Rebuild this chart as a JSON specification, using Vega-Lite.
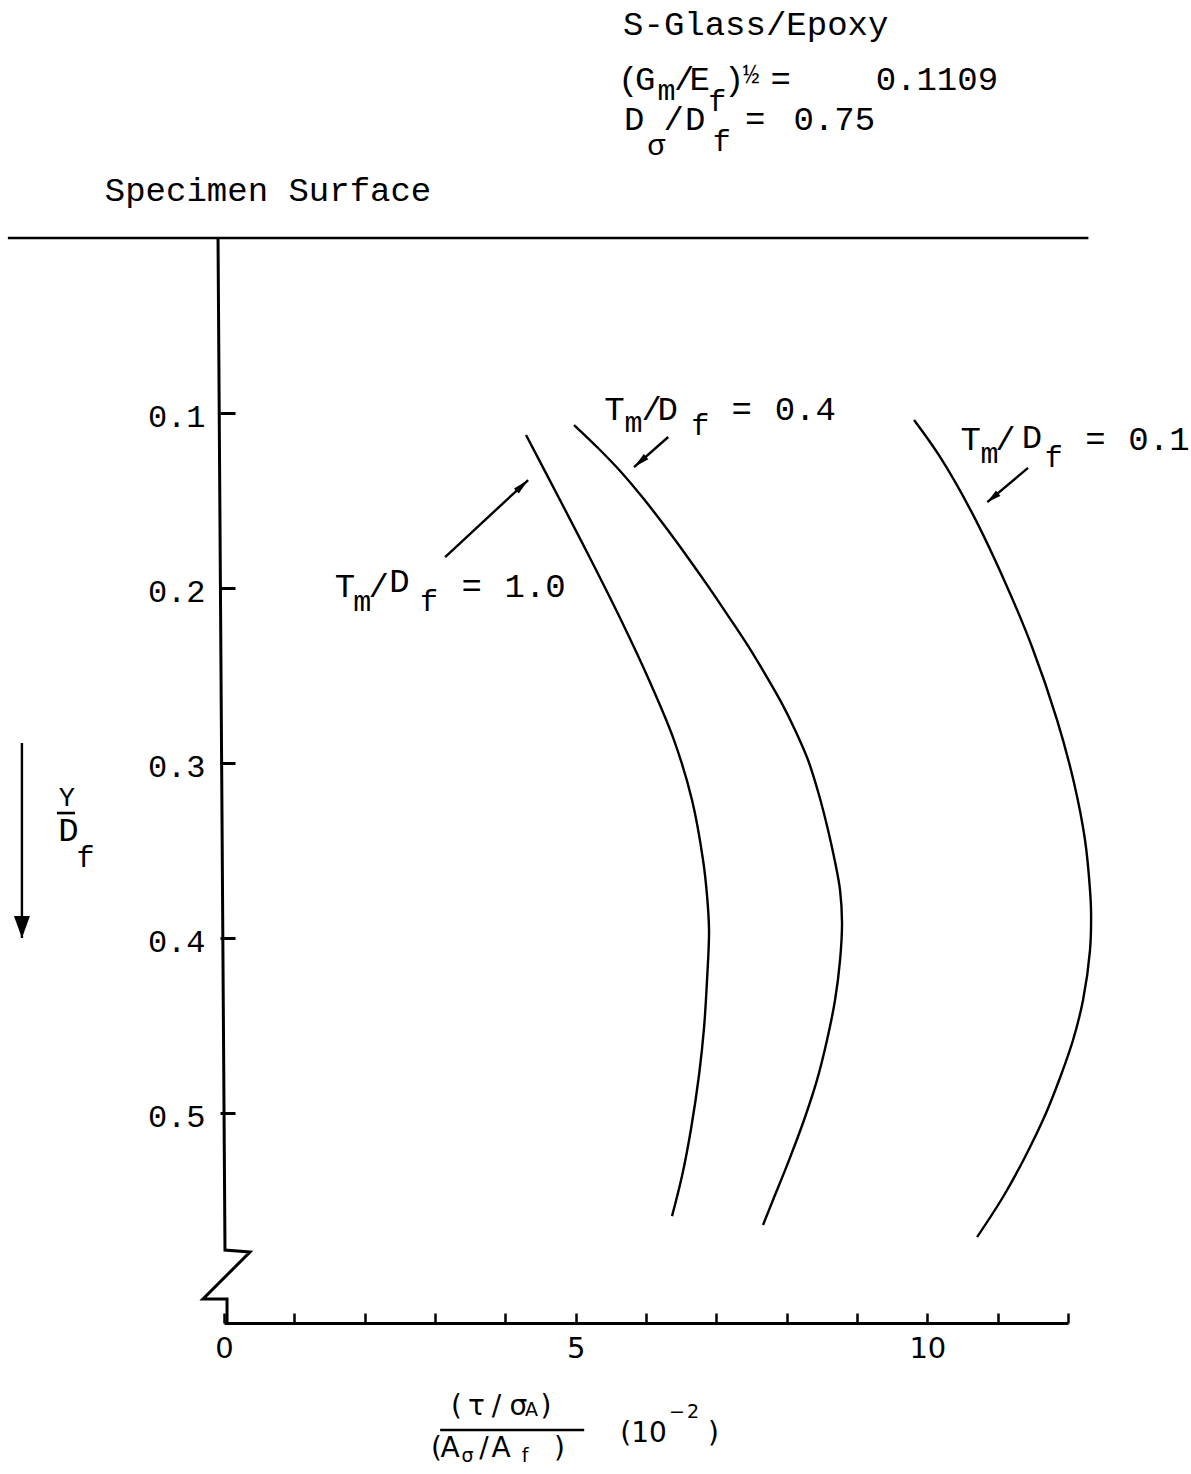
{
  "$schema": "https://vega.github.io/schema/vega-lite/v6.json",
  "width": 844,
  "height": 1085,
  "autosize": {"type": "none"},
  "padding": {"left": 224, "top": 238, "right": 123, "bottom": 151},
  "background": "white",
  "config": {"view": {"stroke": null}},
  "datasets": {
    "curves": [
      {"ratio": "1.0", "x": 4.294, "y": 0.1126},
      {"ratio": "1.0", "x": 4.777, "y": 0.1497},
      {"ratio": "1.0", "x": 5.218, "y": 0.184},
      {"ratio": "1.0", "x": 5.645, "y": 0.2183},
      {"ratio": "1.0", "x": 6.043, "y": 0.2526},
      {"ratio": "1.0", "x": 6.398, "y": 0.2869},
      {"ratio": "1.0", "x": 6.654, "y": 0.3211},
      {"ratio": "1.0", "x": 6.811, "y": 0.3554},
      {"ratio": "1.0", "x": 6.867, "y": 0.3754},
      {"ratio": "1.0", "x": 6.896, "y": 0.3954},
      {"ratio": "1.0", "x": 6.867, "y": 0.4246},
      {"ratio": "1.0", "x": 6.825, "y": 0.4514},
      {"ratio": "1.0", "x": 6.754, "y": 0.4783},
      {"ratio": "1.0", "x": 6.64, "y": 0.5091},
      {"ratio": "1.0", "x": 6.512, "y": 0.536},
      {"ratio": "1.0", "x": 6.37, "y": 0.5589},
      {"ratio": "0.4", "x": 4.977, "y": 0.1069},
      {"ratio": "0.4", "x": 5.318, "y": 0.12},
      {"ratio": "0.4", "x": 5.645, "y": 0.1337},
      {"ratio": "0.4", "x": 5.958, "y": 0.1486},
      {"ratio": "0.4", "x": 6.256, "y": 0.164},
      {"ratio": "0.4", "x": 6.569, "y": 0.1811},
      {"ratio": "0.4", "x": 6.882, "y": 0.1989},
      {"ratio": "0.4", "x": 7.18, "y": 0.2166},
      {"ratio": "0.4", "x": 7.451, "y": 0.2331},
      {"ratio": "0.4", "x": 7.692, "y": 0.2491},
      {"ratio": "0.4", "x": 7.92, "y": 0.2651},
      {"ratio": "0.4", "x": 8.119, "y": 0.2811},
      {"ratio": "0.4", "x": 8.304, "y": 0.2983},
      {"ratio": "0.4", "x": 8.46, "y": 0.3183},
      {"ratio": "0.4", "x": 8.588, "y": 0.3383},
      {"ratio": "0.4", "x": 8.688, "y": 0.3566},
      {"ratio": "0.4", "x": 8.759, "y": 0.3726},
      {"ratio": "0.4", "x": 8.787, "y": 0.3914},
      {"ratio": "0.4", "x": 8.759, "y": 0.4126},
      {"ratio": "0.4", "x": 8.688, "y": 0.4354},
      {"ratio": "0.4", "x": 8.574, "y": 0.4583},
      {"ratio": "0.4", "x": 8.432, "y": 0.4811},
      {"ratio": "0.4", "x": 8.247, "y": 0.504},
      {"ratio": "0.4", "x": 8.034, "y": 0.5269},
      {"ratio": "0.4", "x": 7.806, "y": 0.5497},
      {"ratio": "0.4", "x": 7.664, "y": 0.564},
      {"ratio": "0.1", "x": 9.811, "y": 0.104},
      {"ratio": "0.1", "x": 10.181, "y": 0.1251},
      {"ratio": "0.1", "x": 10.636, "y": 0.1571},
      {"ratio": "0.1", "x": 11.091, "y": 0.1954},
      {"ratio": "0.1", "x": 11.489, "y": 0.2337},
      {"ratio": "0.1", "x": 11.844, "y": 0.2754},
      {"ratio": "0.1", "x": 12.086, "y": 0.3114},
      {"ratio": "0.1", "x": 12.242, "y": 0.344},
      {"ratio": "0.1", "x": 12.313, "y": 0.3726},
      {"ratio": "0.1", "x": 12.328, "y": 0.3857},
      {"ratio": "0.1", "x": 12.313, "y": 0.4069},
      {"ratio": "0.1", "x": 12.214, "y": 0.4354},
      {"ratio": "0.1", "x": 12.072, "y": 0.4583},
      {"ratio": "0.1", "x": 11.901, "y": 0.4783},
      {"ratio": "0.1", "x": 11.688, "y": 0.5},
      {"ratio": "0.1", "x": 11.389, "y": 0.5251},
      {"ratio": "0.1", "x": 11.076, "y": 0.548},
      {"ratio": "0.1", "x": 10.707, "y": 0.5709}
    ],
    "yaxis": [
      {"k": 0, "x": -0.085, "y": 0},
      {"k": 1, "x": 0.014, "y": 0.5783},
      {"k": 2, "x": 0.37, "y": 0.5794},
      {"k": 3, "x": -0.299, "y": 0.6063},
      {"k": 4, "x": 0.043, "y": 0.6063},
      {"k": 5, "x": 0.043, "y": 0.62}
    ],
    "majorTicks": [{"x": 5}, {"x": 10}],
    "strokes": [
      {"x": -3.073, "y": 0, "x2": 12.29, "y2": 0},
      {"x": 3.073, "y": 0.6811, "x2": 5.121, "y2": 0.6811},
      {"x": -2.375, "y": 0.3286, "x2": -2.119, "y2": 0.3286}
    ],
    "arrows": [
      {"name": "r10", "x": 3.144, "y": 0.1823, "x2": 4.324, "y2": 0.1383},
      {"name": "r04", "x": 6.316, "y": 0.1137, "x2": 5.83, "y2": 0.1309},
      {"name": "r01", "x": 11.432, "y": 0.1314, "x2": 10.853, "y2": 0.1509},
      {"name": "depth", "x": -2.873, "y": 0.2886, "x2": -2.873, "y2": 0.4}
    ],
    "mono": [
      {"t": "S-Glass/Epoxy", "x": 7.56, "y": -0.116},
      {"t": "(", "x": 5.747, "y": -0.0846},
      {"t": "G", "x": 5.99, "y": -0.0846},
      {"t": "/", "x": 6.543, "y": -0.0846},
      {"t": "E", "x": 6.764, "y": -0.0846},
      {"t": ")", "x": 7.255, "y": -0.0846},
      {"t": "=", "x": 7.916, "y": -0.0846},
      {"t": "0.1109", "x": 10.135, "y": -0.0846},
      {"t": "D", "x": 5.832, "y": -0.0617},
      {"t": "/", "x": 6.394, "y": -0.0617},
      {"t": "D", "x": 6.7, "y": -0.0617},
      {"t": "=", "x": 7.553, "y": -0.0617},
      {"t": "0.75", "x": 8.677, "y": -0.0617},
      {"t": "Specimen Surface", "x": 0.626, "y": -0.0211},
      {"t": "T", "x": 1.718, "y": 0.2051},
      {"t": "/", "x": 2.198, "y": 0.2051},
      {"t": "D", "x": 2.496, "y": 0.202},
      {"t": "=", "x": 3.521, "y": 0.2051},
      {"t": "1.0", "x": 4.424, "y": 0.2051},
      {"t": "T", "x": 5.552, "y": 0.104},
      {"t": "/", "x": 6.081, "y": 0.104},
      {"t": "D", "x": 6.309, "y": 0.104},
      {"t": "=", "x": 7.361, "y": 0.104},
      {"t": "0.4", "x": 8.265, "y": 0.104},
      {"t": "T", "x": 10.616, "y": 0.1211},
      {"t": "/", "x": 11.11, "y": 0.1211},
      {"t": "D", "x": 11.486, "y": 0.12},
      {"t": "=", "x": 12.39, "y": 0.1211},
      {"t": "0.1", "x": 13.293, "y": 0.1211},
      {"t": "D", "x": -2.212, "y": 0.3446}
    ],
    "monoSub": [
      {"t": "m", "x": 6.29, "y": -0.0789},
      {"t": "f", "x": 7.013, "y": -0.0726},
      {"t": "σ", "x": 6.145, "y": -0.0474},
      {"t": "f", "x": 7.077, "y": -0.0497},
      {"t": "m", "x": 1.966, "y": 0.2131},
      {"t": "f", "x": 2.916, "y": 0.2131},
      {"t": "m", "x": 5.821, "y": 0.1109},
      {"t": "f", "x": 6.771, "y": 0.1126},
      {"t": "m", "x": 10.885, "y": 0.1286},
      {"t": "f", "x": 11.799, "y": 0.1309},
      {"t": "f", "x": -1.97, "y": 0.3594}
    ],
    "monoSmall": [
      {"t": "Y", "x": -2.233, "y": 0.3246},
      {"t": "½", "x": 7.496, "y": -0.0886}
    ],
    "sans": [
      {"t": "(", "x": 3.306, "y": 0.6726},
      {"t": "τ", "x": 3.59, "y": 0.6726},
      {"t": "/", "x": 3.875, "y": 0.6726},
      {"t": "σ", "x": 4.187, "y": 0.6726},
      {"t": ")", "x": 4.578, "y": 0.6726},
      {"t": "(", "x": 3.021, "y": 0.6966},
      {"t": "A", "x": 3.213, "y": 0.6966},
      {"t": "/", "x": 3.697, "y": 0.6966},
      {"t": "A", "x": 3.939, "y": 0.6966},
      {"t": ")", "x": 4.77, "y": 0.6966},
      {"t": "(10", "x": 5.965, "y": 0.688},
      {"t": ")", "x": 6.96, "y": 0.688}
    ],
    "sansSmall": [
      {"t": "A", "x": 4.372, "y": 0.6731},
      {"t": "σ", "x": 3.462, "y": 0.6994},
      {"t": "f", "x": 4.28, "y": 0.6994},
      {"t": "−", "x": 6.441, "y": 0.6743},
      {"t": "2", "x": 6.669, "y": 0.6743}
    ]
  },
  "encoding": {
    "x": {
      "field": "x",
      "type": "quantitative",
      "scale": {"domain": [0, 12], "nice": false, "zero": false},
      "axis": {
        "values": [0, 1, 2, 3, 4, 5, 6, 7, 8, 9, 10, 11, 12],
        "labelExpr": "datum.value % 5 === 0 ? datum.label : ''",
        "title": null,
        "grid": false,
        "domainColor": "black",
        "domainWidth": 3,
        "tickSize": -10,
        "tickWidth": 2.5,
        "tickColor": "black",
        "labelFont": "DejaVu Sans",
        "labelFontSize": 29,
        "labelColor": "black",
        "labelPadding": 21,
        "labelFlush": false,
        "labelOverlap": false
      }
    },
    "y": {
      "field": "y",
      "type": "quantitative",
      "scale": {"domain": [0, 0.62], "nice": false, "zero": false, "reverse": true},
      "axis": {
        "values": [0.1, 0.2, 0.3, 0.4, 0.5],
        "format": ".1f",
        "title": null,
        "grid": false,
        "domain": false,
        "offset": 4,
        "tickSize": -15,
        "tickWidth": 3,
        "tickColor": "black",
        "labelFont": "Liberation Mono",
        "labelFontSize": 32,
        "labelColor": "black",
        "labelPadding": 30,
        "labelOffset": 3
      }
    }
  },
  "layer": [
    {
      "data": {"name": "yaxis"},
      "mark": {"type": "line", "color": "black", "strokeWidth": 3},
      "encoding": {"order": {"field": "k", "type": "quantitative"}}
    },
    {
      "data": {"name": "majorTicks"},
      "mark": {"type": "rule", "color": "black", "strokeWidth": 2.5},
      "encoding": {
        "y": {"datum": 0.62, "type": "quantitative"},
        "y2": {"datum": 0.6097}
      }
    },
    {
      "data": {"name": "curves"},
      "mark": {"type": "line", "color": "black", "strokeWidth": 2.4, "interpolate": "catmull-rom"},
      "encoding": {
        "detail": {"field": "ratio", "type": "nominal"},
        "order": {"field": "y", "type": "quantitative"}
      }
    },
    {
      "data": {"name": "strokes"},
      "mark": {"type": "rule", "color": "black", "strokeWidth": 2.6},
      "encoding": {"x2": {"field": "x2"}, "y2": {"field": "y2"}}
    },
    {
      "data": {"name": "arrows"},
      "mark": {"type": "rule", "color": "black", "strokeWidth": 2.4},
      "encoding": {"x2": {"field": "x2"}, "y2": {"field": "y2"}}
    },
    {
      "data": {"name": "arrows"},
      "transform": [{"filter": "datum.name === 'r10'"}],
      "mark": {"type": "point", "filled": true, "color": "black", "opacity": 1, "shape": "M0,0L0.35,1.6L-0.35,1.6Z", "size": 400, "angle": 47},
      "encoding": {"x": {"field": "x2", "type": "quantitative"}, "y": {"field": "y2", "type": "quantitative"}}
    },
    {
      "data": {"name": "arrows"},
      "transform": [{"filter": "datum.name === 'r04'"}],
      "mark": {"type": "point", "filled": true, "color": "black", "opacity": 1, "shape": "M0,0L0.35,1.6L-0.35,1.6Z", "size": 400, "angle": 229},
      "encoding": {"x": {"field": "x2", "type": "quantitative"}, "y": {"field": "y2", "type": "quantitative"}}
    },
    {
      "data": {"name": "arrows"},
      "transform": [{"filter": "datum.name === 'r01'"}],
      "mark": {"type": "point", "filled": true, "color": "black", "opacity": 1, "shape": "M0,0L0.35,1.4L-0.35,1.4Z", "size": 400, "angle": 231},
      "encoding": {"x": {"field": "x2", "type": "quantitative"}, "y": {"field": "y2", "type": "quantitative"}}
    },
    {
      "data": {"name": "arrows"},
      "transform": [{"filter": "datum.name === 'depth'"}],
      "mark": {"type": "point", "filled": true, "color": "black", "opacity": 1, "shape": "M0,0L0.8,2.2L-0.8,2.2Z", "size": 400, "angle": 180},
      "encoding": {"x": {"field": "x2", "type": "quantitative"}, "y": {"field": "y2", "type": "quantitative"}}
    },
    {
      "data": {"name": "mono"},
      "mark": {"type": "text", "font": "Liberation Mono", "fontSize": 34, "align": "center", "baseline": "alphabetic", "color": "black"},
      "encoding": {"text": {"field": "t"}}
    },
    {
      "data": {"name": "monoSub"},
      "mark": {"type": "text", "font": "Liberation Mono", "fontSize": 30, "align": "center", "baseline": "alphabetic", "color": "black"},
      "encoding": {"text": {"field": "t"}}
    },
    {
      "data": {"name": "monoSmall"},
      "mark": {"type": "text", "font": "Liberation Mono", "fontSize": 27, "align": "center", "baseline": "alphabetic", "color": "black"},
      "encoding": {"text": {"field": "t"}}
    },
    {
      "data": {"name": "sans"},
      "mark": {"type": "text", "font": "DejaVu Sans", "fontSize": 28, "align": "center", "baseline": "alphabetic", "color": "black"},
      "encoding": {"text": {"field": "t"}}
    },
    {
      "data": {"name": "sansSmall"},
      "mark": {"type": "text", "font": "DejaVu Sans", "fontSize": 19, "align": "center", "baseline": "alphabetic", "color": "black"},
      "encoding": {"text": {"field": "t"}}
    }
  ]
}
